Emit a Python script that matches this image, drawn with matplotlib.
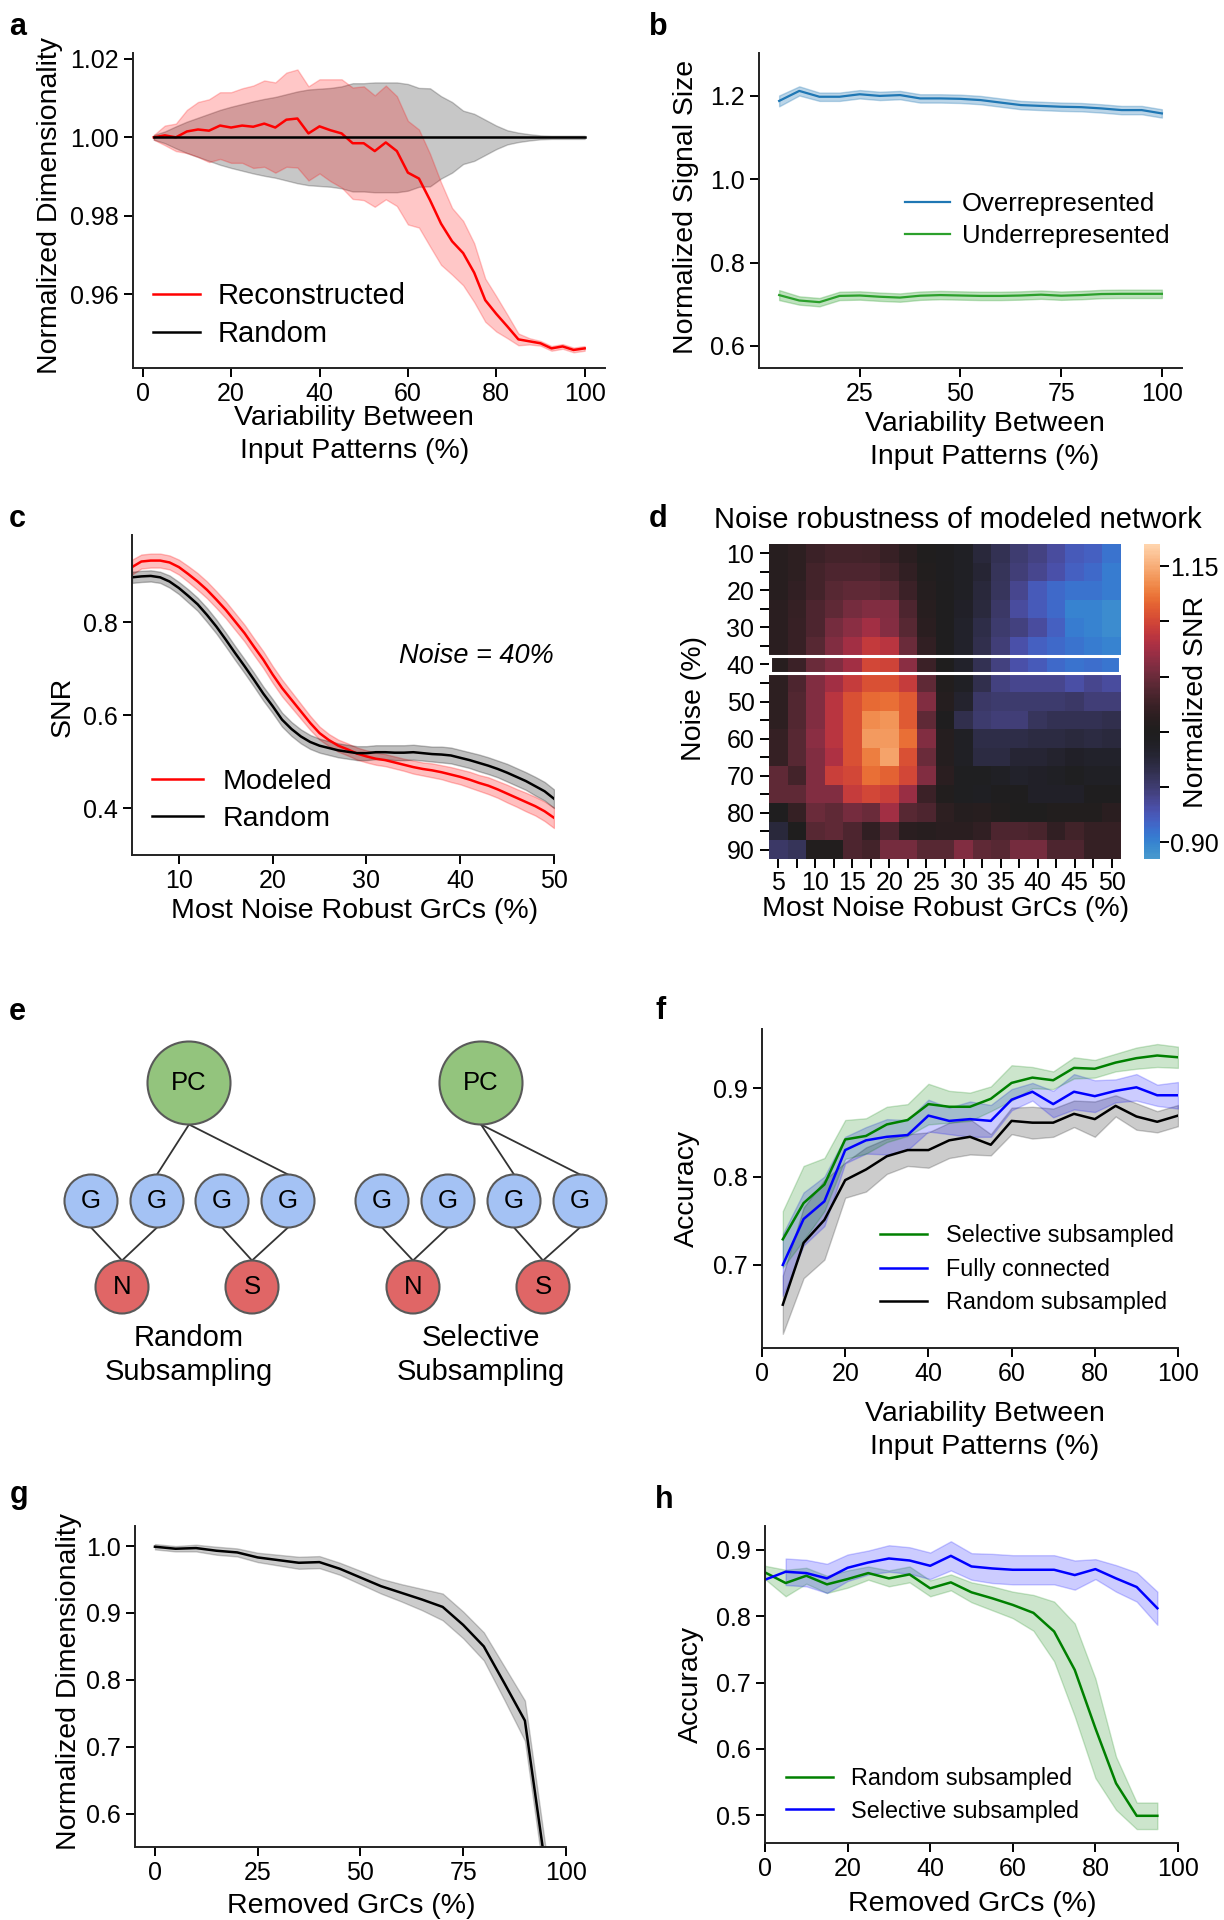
import numpy as np
import matplotlib
matplotlib.use("Agg")
import matplotlib.pyplot as plt
from matplotlib.patches import Circle, Rectangle
from matplotlib.colors import ListedColormap
import seaborn as sns

# ---------------- data ----------------
# a: dimensionality vs variability
a_x = [2.5, 5, 7.5, 10, 12.5, 15, 17.5, 20, 22.5, 25, 27.5, 30, 32.5, 35, 37.5, 40, 42.5, 45, 47.5, 50,
       52.5, 55, 57.5, 60, 62.5, 65, 67.5, 70, 72.5, 75, 77.5, 80, 82.5, 85, 87.5, 90, 92.5, 95, 97.5, 100]
recon_mean = [1.0000, 1.0005, 1.0000, 1.0015, 1.0020, 1.0017, 1.0030, 1.0025, 1.0030, 1.0027,
              1.0035, 1.0025, 1.0045, 1.0048, 1.0010, 1.0028, 1.0018, 1.0010, 0.9985, 0.9985,
              0.9965, 0.9987, 0.9965, 0.9910, 0.9895, 0.9840, 0.9780, 0.9735, 0.9705, 0.9655,
              0.9585, 0.9550, 0.9518, 0.9485, 0.9480, 0.9475, 0.9462, 0.9467, 0.9458, 0.9462]
recon_sd = [0.0006, 0.0025, 0.0035, 0.0055, 0.0070, 0.0080, 0.0085, 0.0090, 0.0095, 0.0105,
            0.0110, 0.0115, 0.0120, 0.0125, 0.0120, 0.0120, 0.0130, 0.0138, 0.0142, 0.0145,
            0.0142, 0.0145, 0.0140, 0.0132, 0.0125, 0.0118, 0.0105, 0.0085, 0.0082, 0.0075,
            0.0055, 0.0045, 0.0030, 0.0015, 0.0008, 0.0006, 0.0006, 0.0006, 0.0006, 0.0006]
rand_a_mean = [1.0, 1.0, 1.0, 1.0, 1.0, 1.0, 1.0, 1.0, 1.0, 1.0, 1.0, 1.0, 1.0, 1.0, 1.0, 1.0, 1.0, 1.0, 1.0, 1.0,
               1.0, 1.0, 1.0, 1.0, 1.0, 1.0, 1.0, 1.0, 1.0, 1.0, 1.0, 1.0, 1.0, 1.0, 1.0, 1.0, 1.0, 1.0, 1.0, 1.0]
rand_a_sd = [0.0006, 0.0015, 0.0028, 0.0040, 0.0050, 0.0060, 0.0070, 0.0078, 0.0085, 0.0092,
             0.0098, 0.0103, 0.0110, 0.0117, 0.0122, 0.0124, 0.0126, 0.0130, 0.0138, 0.0138,
             0.0140, 0.0140, 0.0140, 0.0136, 0.0126, 0.0125, 0.0105, 0.0090, 0.0068, 0.0060,
             0.0045, 0.0030, 0.0018, 0.0012, 0.0008, 0.0005, 0.0004, 0.0004, 0.0004, 0.0004]

# b: signal size
b_x = [5, 10, 15, 20, 25, 30, 35, 40, 45, 50, 55, 60, 65, 70, 75, 80, 85, 90, 95, 100]
over_mean = [1.188, 1.212, 1.198, 1.198, 1.204, 1.200, 1.202, 1.194, 1.194, 1.193,
             1.190, 1.184, 1.178, 1.176, 1.174, 1.173, 1.170, 1.166, 1.166, 1.158]
over_sd = [0.013, 0.011, 0.010, 0.010, 0.010, 0.010, 0.010, 0.010, 0.010, 0.010,
           0.010, 0.010, 0.010, 0.010, 0.010, 0.010, 0.010, 0.010, 0.010, 0.010]
under_mean = [0.722, 0.709, 0.705, 0.720, 0.721, 0.718, 0.716, 0.7205, 0.722, 0.721,
              0.720, 0.720, 0.721, 0.723, 0.7205, 0.722, 0.7245, 0.725, 0.725, 0.725]
under_sd = [0.012, 0.010, 0.010, 0.010, 0.010, 0.010, 0.010, 0.010, 0.010, 0.010,
            0.010, 0.010, 0.010, 0.010, 0.010, 0.010, 0.010, 0.010, 0.010, 0.010]

# c: SNR vs most noise-robust GrCs
c_x = [5, 6, 7, 8, 9, 10, 11, 12, 13, 14, 15, 16, 17, 18, 19, 20, 21, 22, 23, 24, 25, 26, 27,
       28, 29, 30, 31, 32, 33, 34, 35, 36, 37, 38, 39, 40, 41, 42, 43, 44, 45, 46, 47, 48, 49, 50]
model_mean = [0.919, 0.931, 0.933, 0.933, 0.929, 0.919, 0.904, 0.888, 0.870, 0.849,
              0.827, 0.802, 0.777, 0.748, 0.720, 0.688, 0.659, 0.634, 0.609, 0.584,
              0.562, 0.547, 0.535, 0.527, 0.518, 0.512, 0.507, 0.504, 0.499, 0.494,
              0.489, 0.485, 0.482, 0.478, 0.473, 0.468, 0.462, 0.455, 0.449, 0.441,
              0.432, 0.423, 0.414, 0.405, 0.394, 0.380]
model_sd = [0.016, 0.015, 0.015, 0.015, 0.015, 0.016, 0.017, 0.018, 0.018, 0.018,
            0.018, 0.018, 0.018, 0.018, 0.018, 0.018, 0.018, 0.017, 0.016, 0.015,
            0.014, 0.013, 0.013, 0.013, 0.013, 0.013, 0.013, 0.013, 0.013, 0.013,
            0.014, 0.014, 0.015, 0.015, 0.016, 0.016, 0.017, 0.017, 0.018, 0.018,
            0.019, 0.019, 0.020, 0.020, 0.021, 0.022]
rand_c_mean = [0.897, 0.899, 0.900, 0.897, 0.888, 0.874, 0.857, 0.839, 0.816, 0.791,
               0.763, 0.734, 0.706, 0.677, 0.647, 0.620, 0.591, 0.571, 0.555, 0.543,
               0.535, 0.530, 0.525, 0.522, 0.519, 0.519, 0.521, 0.521, 0.520, 0.520,
               0.521, 0.519, 0.517, 0.516, 0.514, 0.509, 0.504, 0.498, 0.492, 0.485,
               0.477, 0.468, 0.459, 0.448, 0.437, 0.421]
rand_c_sd = [0.012, 0.012, 0.012, 0.012, 0.013, 0.013, 0.014, 0.014, 0.015, 0.015,
             0.015, 0.015, 0.015, 0.015, 0.015, 0.015, 0.015, 0.015, 0.015, 0.015,
             0.015, 0.015, 0.015, 0.015, 0.015, 0.015, 0.015, 0.015, 0.016, 0.016,
             0.016, 0.016, 0.016, 0.017, 0.017, 0.017, 0.017, 0.018, 0.018, 0.018,
             0.019, 0.019, 0.019, 0.020, 0.020, 0.020]

# d: normalized SNR heatmap (rows: noise, cols: most noise robust GrCs)
noise_levels = [10, 15, 20, 25, 30, 35, 40, 45, 50, 55, 60, 65, 70, 75, 80, 85, 90]
robust_levels = [5, 7.5, 10, 12.5, 15, 17.5, 20, 22.5, 25, 27.5, 30, 32.5, 35, 37.5, 40, 42.5, 45, 47.5, 50]
snr_grid = [
    [1.010, 1.015, 1.025, 1.030, 1.030, 1.028, 1.022, 1.012, 1.003, 0.997, 0.990, 0.975, 0.962, 0.950, 0.943, 0.935, 0.925, 0.920, 0.910],
    [1.010, 1.015, 1.030, 1.035, 1.035, 1.035, 1.030, 1.018, 1.005, 0.997, 0.990, 0.978, 0.960, 0.948, 0.940, 0.930, 0.920, 0.915, 0.905],
    [1.010, 1.018, 1.030, 1.040, 1.045, 1.045, 1.040, 1.025, 1.008, 0.998, 0.990, 0.975, 0.958, 0.940, 0.925, 0.915, 0.910, 0.910, 0.905],
    [1.012, 1.020, 1.035, 1.045, 1.055, 1.060, 1.060, 1.035, 1.010, 0.998, 0.988, 0.972, 0.955, 0.935, 0.925, 0.915, 0.900, 0.900, 0.895],
    [1.012, 1.022, 1.035, 1.055, 1.065, 1.075, 1.062, 1.040, 1.012, 0.998, 0.985, 0.968, 0.952, 0.945, 0.935, 0.920, 0.905, 0.900, 0.895],
    [1.012, 1.022, 1.040, 1.060, 1.075, 1.090, 1.085, 1.050, 1.018, 0.998, 0.985, 0.965, 0.948, 0.930, 0.920, 0.915, 0.910, 0.905, 0.900],
    [1.010, 1.025, 1.050, 1.060, 1.075, 1.100, 1.097, 1.065, 1.025, 1.000, 0.985, 0.962, 0.945, 0.930, 0.925, 0.915, 0.910, 0.912, 0.908],
    [1.015, 1.035, 1.060, 1.075, 1.092, 1.105, 1.105, 1.092, 1.045, 1.005, 0.990, 0.965, 0.945, 0.940, 0.940, 0.940, 0.932, 0.940, 0.935],
    [1.015, 1.038, 1.060, 1.085, 1.105, 1.118, 1.122, 1.110, 1.060, 1.008, 0.982, 0.955, 0.952, 0.952, 0.952, 0.952, 0.955, 0.948, 0.948],
    [1.015, 1.038, 1.060, 1.085, 1.105, 1.135, 1.138, 1.110, 1.045, 0.998, 0.965, 0.952, 0.948, 0.948, 0.958, 0.962, 0.962, 0.962, 0.965],
    [1.020, 1.040, 1.065, 1.085, 1.105, 1.140, 1.140, 1.122, 1.060, 1.008, 0.990, 0.968, 0.968, 0.968, 0.970, 0.970, 0.972, 0.970, 0.972],
    [1.020, 1.040, 1.060, 1.080, 1.105, 1.128, 1.145, 1.105, 1.050, 1.008, 0.990, 0.970, 0.970, 0.978, 0.978, 0.982, 0.988, 0.985, 0.985],
    [1.045, 1.030, 1.060, 1.095, 1.100, 1.122, 1.115, 1.100, 1.060, 1.012, 0.995, 0.995, 0.990, 0.985, 0.988, 0.990, 0.993, 0.990, 0.990],
    [1.045, 1.045, 1.060, 1.060, 1.092, 1.100, 1.095, 1.070, 1.025, 1.005, 0.993, 0.992, 0.998, 0.998, 0.988, 0.988, 0.988, 0.998, 0.998],
    [0.998, 1.020, 1.050, 1.045, 1.055, 1.050, 1.075, 1.040, 1.035, 1.015, 1.008, 1.010, 1.005, 1.000, 1.000, 1.005, 1.005, 1.005, 1.012],
    [0.975, 1.000, 1.040, 1.045, 1.035, 1.018, 1.035, 1.012, 1.010, 1.012, 1.012, 1.018, 1.035, 1.035, 1.032, 1.018, 1.028, 1.020, 1.020],
    [0.955, 0.960, 1.005, 1.005, 1.035, 1.030, 1.055, 1.055, 1.040, 1.040, 1.060, 1.045, 1.040, 1.055, 1.055, 1.035, 1.035, 1.020, 1.020],
]
highlight_noise = 40

# f: accuracy vs variability
f_x = [5, 10, 15, 20, 25, 30, 35, 40, 45, 50, 55, 60, 65, 70, 75, 80, 85, 90, 95, 100]
sel_f = [0.729, 0.770, 0.791, 0.842, 0.846, 0.859, 0.864, 0.882, 0.879, 0.879,
         0.888, 0.906, 0.912, 0.909, 0.923, 0.922, 0.929, 0.934, 0.937, 0.935]
sel_f_sd = [0.032, 0.042, 0.030, 0.022, 0.020, 0.020, 0.018, 0.023, 0.018, 0.016,
            0.014, 0.020, 0.012, 0.010, 0.012, 0.010, 0.010, 0.012, 0.013, 0.012]
full_f = [0.700, 0.752, 0.772, 0.830, 0.841, 0.845, 0.847, 0.869, 0.863, 0.865,
          0.863, 0.887, 0.896, 0.882, 0.896, 0.891, 0.897, 0.901, 0.892, 0.892]
full_f_sd = [0.035, 0.030, 0.028, 0.015, 0.015, 0.020, 0.017, 0.018, 0.015, 0.020,
             0.018, 0.012, 0.010, 0.015, 0.020, 0.018, 0.013, 0.015, 0.012, 0.015]
rand_f = [0.655, 0.725, 0.751, 0.796, 0.808, 0.823, 0.830, 0.830, 0.841, 0.845,
          0.836, 0.863, 0.861, 0.861, 0.871, 0.865, 0.880, 0.868, 0.862, 0.869]
rand_f_sd = [0.033, 0.040, 0.045, 0.020, 0.025, 0.020, 0.018, 0.020, 0.020, 0.020,
             0.012, 0.015, 0.018, 0.016, 0.015, 0.020, 0.012, 0.015, 0.012, 0.012]

# g: dimensionality vs removed GrCs
g_x = [0, 5, 10, 15, 20, 25, 30, 35, 40, 45, 50, 55, 60, 65, 70, 75, 80, 85, 90, 95]
dim_mean = [0.999, 0.996, 0.997, 0.993, 0.9905, 0.983, 0.979, 0.975, 0.976, 0.966,
            0.953, 0.940, 0.930, 0.920, 0.909, 0.882, 0.850, 0.795, 0.739, 0.520]
dim_sd = [0.004, 0.004, 0.005, 0.006, 0.006, 0.007, 0.008, 0.009, 0.009, 0.009,
          0.010, 0.011, 0.013, 0.016, 0.020, 0.020, 0.021, 0.025, 0.030, 0.030]

# h: accuracy vs removed GrCs
h_x = [0, 5, 10, 15, 20, 25, 30, 35, 40, 45, 50, 55, 60, 65, 70, 75, 80, 85, 90, 95]
rnd_h = [0.866, 0.850, 0.861, 0.848, 0.856, 0.865, 0.857, 0.863, 0.842, 0.851,
         0.836, 0.827, 0.817, 0.805, 0.777, 0.719, 0.631, 0.548, 0.499, 0.499]
rnd_h_sd = [0.010, 0.020, 0.012, 0.013, 0.013, 0.010, 0.012, 0.012, 0.012, 0.012,
            0.015, 0.018, 0.020, 0.027, 0.045, 0.070, 0.075, 0.040, 0.020, 0.020]
sel_h = [0.855, 0.867, 0.865, 0.857, 0.873, 0.881, 0.887, 0.884, 0.876, 0.891,
         0.875, 0.872, 0.870, 0.870, 0.870, 0.862, 0.871, 0.857, 0.844, 0.812]
sel_h_sd = [np.nan, 0.020, 0.020, 0.022, 0.020, 0.018, 0.020, 0.020, 0.020, 0.022,
            0.020, 0.022, 0.022, 0.022, 0.022, 0.022, 0.015, 0.020, 0.022, 0.025]

# ---------------- style ----------------
plt.rcParams.update({
    "font.family": ["Liberation Sans", "DejaVu Sans"],
    "axes.linewidth": 1.4,
    "axes.edgecolor": "#222222",
    "axes.spines.top": False,
    "axes.spines.right": False,
    "xtick.major.width": 1.4,
    "ytick.major.width": 1.4,
    "xtick.major.size": 6.5,
    "ytick.major.size": 6.5,
    "xtick.major.pad": 3.5,
    "ytick.major.pad": 4,
    "xtick.labelsize": 18,
    "ytick.labelsize": 18,
    "axes.labelsize": 20.5,
})

W, H = 1224, 1920
fig = plt.figure(figsize=(W / 100, H / 100), dpi=100)


def px_axes(l, t, r, b):
    return fig.add_axes([l / W, 1 - b / H, (r - l) / W, (b - t) / H])


def band(ax, x, m, s, color, alpha, label=None, lw=1.8):
    m = np.asarray(m, float)
    s = np.asarray(s, float)
    ax.fill_between(x, m - s, m + s, color=color, alpha=alpha, lw=1)
    ax.plot(x, m, color=color, lw=lw, label=label)


def labels(ax, xl, yl, xc, yc):
    ax.set_xlabel(xl, linespacing=1.35)
    ax.xaxis.set_label_coords(*xc)
    ax.set_ylabel(yl)
    ax.yaxis.set_label_coords(*yc)


def legend(ax, fs, anchor, hl, htp, ls, order=None):
    hs, lb = ax.get_legend_handles_labels()
    if order is not None:
        hs = [hs[i] for i in order]
        lb = [lb[i] for i in order]
    ax.legend(hs, lb, loc="upper left", bbox_to_anchor=anchor, frameon=False, fontsize=fs,
              handlelength=hl, handletextpad=htp, labelspacing=ls, borderaxespad=0)


# ---------------- a ----------------
ax = px_axes(133, 53, 605, 368)
ax.fill_between(a_x, np.subtract(rand_a_mean, rand_a_sd), np.add(rand_a_mean, rand_a_sd),
                color="black", alpha=0.22, lw=1)
band(ax, a_x, recon_mean, recon_sd, "red", 0.22, label="Reconstructed")
ax.plot(a_x, rand_a_mean, color="black", lw=1.8, label="Random")
ax.set_xlim(-2.2, 104.6)
ax.set_ylim(0.9412, 1.0215)
ax.set_xticks([0, 20, 40, 60, 80, 100])
ax.set_yticks([0.96, 0.98, 1.00, 1.02])
labels(ax, "Variability Between\nInput Patterns (%)", "Normalized Dimensionality",
       (0.469, -0.118), (-0.149, 0.517))
legend(ax, 21, (0.018, 0.31), 1.6, 0.6, 0.35)

# ---------------- b ----------------
ax = px_axes(759, 53, 1182, 368)
band(ax, b_x, over_mean, over_sd, "#1f77b4", 0.3, label="Overrepresented", lw=1.6)
band(ax, b_x, under_mean, under_sd, "#2ca02c", 0.3, label="Underrepresented", lw=1.6)
ax.set_xlim(0, 105)
ax.set_ylim(0.547, 1.303)
ax.set_xticks([25, 50, 75, 100])
ax.set_yticks([0.6, 0.8, 1.0, 1.2])
labels(ax, "Variability Between\nInput Patterns (%)", "Normalized Signal Size",
       (0.534, -0.138), (-0.141, 0.512))
legend(ax, 18.5, (0.322, 0.59), 1.75, 0.45, 0.3)

# ---------------- c ----------------
ax = px_axes(132, 535, 554, 855)
band(ax, c_x, model_mean, model_sd, "red", 0.25, label="Modeled")
band(ax, c_x, rand_c_mean, rand_c_sd, "black", 0.25, label="Random")
ax.set_xlim(5, 50)
ax.set_ylim(0.30, 0.988)
ax.set_xticks([10, 20, 30, 40, 50])
ax.set_yticks([0.4, 0.6, 0.8])
ax.text(1.0, 0.6, "Noise = 40%", transform=ax.transAxes, ha="right", va="baseline",
        fontsize=19.5, style="italic")
labels(ax, "Most Noise Robust GrCs (%)", "SNR", (0.527, -0.133), (-0.133, 0.463))
legend(ax, 20.5, (0.02, 0.305), 1.8, 0.7, 0.4)

# ---------------- d ----------------
ax = px_axes(769, 544, 1121, 859)
vmin, vmax, center = 0.885, 1.17, 1.0
rng = max(vmax - center, center - vmin)
ice = sns.color_palette("icefire", as_cmap=True)
cmap = ListedColormap(ice(np.linspace((vmin - center + rng) / (2 * rng),
                                      (vmax - center + rng) / (2 * rng), 256)))
grid = np.array(snr_grid)
mesh = ax.pcolormesh(np.arange(len(robust_levels) + 1), np.arange(len(noise_levels) + 1), grid,
                     cmap=cmap, vmin=vmin, vmax=vmax)
ax.set_xlim(0, len(robust_levels))
ax.set_ylim(len(noise_levels), 0)
for sp in ax.spines.values():
    sp.set_visible(False)
ax.set_xticks(np.arange(len(robust_levels)) + 0.5)
ax.set_xticklabels([f"{v:g}" if i % 2 == 0 else "" for i, v in enumerate(robust_levels)])
ax.set_yticks(np.arange(len(noise_levels)) + 0.5)
ax.set_yticklabels([f"{v}" if v % 10 == 0 else "" for v in noise_levels])
ax.tick_params(axis="x", pad=2)
row = noise_levels.index(highlight_noise)
ax.add_patch(Rectangle((0.05, row + 0.02), len(robust_levels) - 0.1, 0.96, fill=False,
                       edgecolor="white", lw=2.2, clip_on=False))
ax.set_title("Noise robustness of modeled network", fontsize=21, x=0.535, pad=11.5)
labels(ax, "Most Noise Robust GrCs (%)", "Noise (%)", (0.502, -0.118), (-0.176, 0.511))
cax = px_axes(1144, 544, 1160, 859)
cbar = fig.colorbar(mesh, cax=cax, ticks=[0.90, 0.95, 1.00, 1.05, 1.10, 1.15])
cbar.ax.set_yticklabels(["0.90", "", "", "", "", "1.15"])
cbar.outline.set_visible(False)
cbar.ax.tick_params(labelsize=18, length=6.5, width=1.4, pad=1)
cbar.ax.set_ylabel("Normalized SNR", fontsize=20.5)
cbar.ax.yaxis.set_label_position("right")
cbar.ax.yaxis.set_label_coords(2.45, 0.5)

# ---------------- e (diagram) ----------------
ax = px_axes(0, 990, 612, 1410)
ax.set_xlim(0, 612)
ax.set_ylim(1410, 990)
ax.axis("off")
tree_titles = ["Random\nSubsampling", "Selective\nSubsampling"]
tree_pc_x = [189, 481]
tree_g_x = [[91, 157, 222, 288], [382, 448, 514, 580]]
tree_out_x = [[122, 252], [413, 543]]
tree_pc_links = [[1, 3], [2, 3]]
out_names = ["N", "S"]
pc_y, g_y, out_y = 1083, 1201, 1287
r_pc, r_sm = 41.5, 26.5
edge = "#595959"
for t in range(2):
    for gi in tree_pc_links[t]:
        ax.plot([tree_pc_x[t], tree_g_x[t][gi]], [pc_y + r_pc, g_y - r_sm], color="#333333", lw=1.3, zorder=1)
    for oi in range(2):
        for gi in (2 * oi, 2 * oi + 1):
            ax.plot([tree_g_x[t][gi], tree_out_x[t][oi]], [g_y + r_sm, out_y - r_sm],
                    color="#333333", lw=1.3, zorder=1)
    ax.add_patch(Circle((tree_pc_x[t], pc_y), r_pc, fc="#93c47d", ec=edge, lw=1.5, zorder=2))
    ax.text(tree_pc_x[t], pc_y, "PC", ha="center", va="center", fontsize=18.5, zorder=3)
    for gx in tree_g_x[t]:
        ax.add_patch(Circle((gx, g_y), r_sm, fc="#a4c2f4", ec=edge, lw=1.5, zorder=2))
        ax.text(gx, g_y, "G", ha="center", va="center", fontsize=18.5, zorder=3)
    for oi, ox in enumerate(tree_out_x[t]):
        ax.add_patch(Circle((ox, out_y), r_sm, fc="#e06666", ec=edge, lw=1.5, zorder=2))
        ax.text(ox, out_y, out_names[oi], ha="center", va="center", fontsize=18.5, zorder=3)
    ax.text(tree_pc_x[t], 1355, tree_titles[t], ha="center", va="center", fontsize=21,
            linespacing=1.3)

# ---------------- f ----------------
ax = px_axes(762, 1029, 1178, 1348)
band(ax, f_x, rand_f, rand_f_sd, "black", 0.2, label="Random subsampled")
band(ax, f_x, full_f, full_f_sd, "blue", 0.2, label="Fully connected")
band(ax, f_x, sel_f, sel_f_sd, "green", 0.2, label="Selective subsampled")
ax.set_xlim(0, 100)
ax.set_ylim(0.606, 0.967)
ax.set_xticks([0, 20, 40, 60, 80, 100])
ax.set_yticks([0.7, 0.8, 0.9])
labels(ax, "Variability Between\nInput Patterns (%)", "Accuracy", (0.536, -0.165), (-0.15, 0.5))
legend(ax, 16.8, (0.262, 0.417), 2.0, 0.8, 0.45, order=[2, 1, 0])

# ---------------- g ----------------
ax = px_axes(135, 1526, 566, 1847)
band(ax, g_x, dim_mean, dim_sd, "black", 0.2)
ax.set_xlim(-4.85, 100)
ax.set_ylim(0.55, 1.03)
ax.set_xticks([0, 25, 50, 75, 100])
ax.set_yticks([0.6, 0.7, 0.8, 0.9, 1.0])
labels(ax, "Removed GrCs (%)", "Normalized Dimensionality", (0.501, -0.142), (-0.124, 0.515))

# ---------------- h ----------------
ax = px_axes(765, 1526, 1178, 1843)
band(ax, h_x, rnd_h, rnd_h_sd, "green", 0.2, label="Random subsampled")
band(ax, h_x, sel_h, sel_h_sd, "blue", 0.2, label="Selective subsampled")
ax.set_xlim(0, 100)
ax.set_ylim(0.458, 0.936)
ax.set_xticks([0, 20, 40, 60, 80, 100])
ax.set_yticks([0.5, 0.6, 0.7, 0.8, 0.9])
labels(ax, "Removed GrCs (%)", "Accuracy", (0.501, -0.15), (-0.148, 0.5))
legend(ax, 16.8, (0.028, 0.27), 2.0, 0.8, 0.42)

# ---------------- panel letters ----------------
for letter, x, y in [("a", 9, 35), ("b", 649, 35), ("c", 9, 527), ("d", 649, 527),
                     ("e", 9, 1020), ("f", 655, 1019), ("g", 10, 1503), ("h", 655, 1508)]:
    fig.text(x / W, 1 - y / H, letter, fontsize=22, fontweight="bold", va="baseline")

fig.savefig("out.png", dpi=100)
